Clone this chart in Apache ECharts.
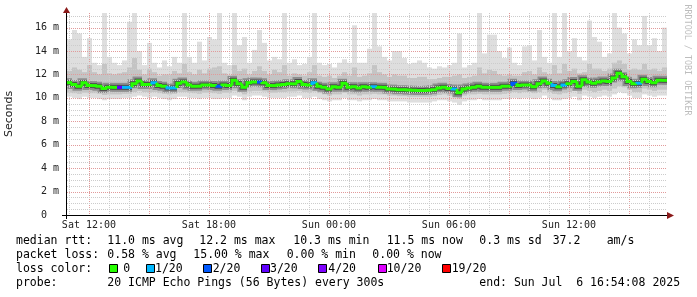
<!DOCTYPE html>
<html><head><meta charset="utf-8">
<script src="https://cdn.jsdelivr.net/npm/echarts@6/dist/echarts.min.js"></script>
<style>html,body{margin:0;padding:0;background:#fff}#c{width:697px;height:297px}</style>
</head><body><div id="c"></div>
<script>
// ---- time base: Sat 10:54:08 -> Sun 16:54:08, hours since Sat 00:00, 15-minute samples
const startHour = 10 + 54/60 + 8/3600;
const stepHours = 0.25;
const yMax = 17.25;

// median RTT (ms)
const median = [
 11.3,11.15,11.0,11.3,11.05,11.05,11.0,10.8,10.9,10.9,
 10.9,10.9,10.9,11.2,11.45,11.15,11.15,11.3,11.05,11.0,
 10.85,10.85,11.25,11.35,11.1,11.0,11.0,11.1,11.1,11.05,
 11.0,11.1,11.05,11.5,11.2,10.9,11.3,11.35,11.35,11.3,
 11.05,11.05,11.1,11.15,11.2,11.2,11.4,11.15,11.1,11.3,
 11.0,10.9,10.75,10.95,10.9,11.25,10.9,10.95,10.85,10.95,
 10.9,10.95,10.9,10.9,10.75,10.75,10.7,10.7,10.68,10.65,
 10.63,10.63,10.65,10.7,10.85,10.9,10.8,10.75,10.45,10.75,
 10.85,10.9,11.0,10.9,10.9,10.9,10.9,11.0,11.0,11.25,
 11.05,11.1,11.1,10.95,11.2,11.45,11.25,11.05,10.95,11.1,
 11.2,11.4,11.0,11.55,11.35,11.25,11.35,11.45,11.4,11.7,
 12.1,11.8,11.4,11.2,11.25,11.6,11.4,11.3,11.5,11.5];

// lost pings out of 20 per sample
const lossCount = [
 0,0,0,0,0,0,0,0,0,0, 3,1,1,0,0,0,0,1,0,0, 1,1,0,0,0,0,0,0,0,0,
 2,0,0,0,0,0,0,0,2,0, 0,0,0,0,0,0,0,0,0,1, 0,0,0,0,0,0,0,0,0,0,
 0,1,0,0,0,0,0,0,0,0, 0,0,0,0,0,0,0,1,0,0, 0,0,0,0,0,0,0,0,0,2,
 0,0,0,0,0,0,0,1,0,1, 0,0,0,0,0,0,0,0,0,0, 0,0,0,0,1,0,0,0,0,0];

// smoke: lowest ping, inner band low/high, highest ping (ms)
const pingMin = [
 10.1,10.0,9.9,10.1,10.0,10.0,9.9,9.8,9.9,9.9,
 9.9,10.0,10.0,10.1,10.2,10.1,10.0,10.1,10.0,9.9,
 9.8,9.9,10.1,10.1,10.0,10.0,9.9,10.0,10.0,9.9,
 9.9,10.0,10.0,10.2,10.1,9.8,10.1,10.2,10.2,10.1,
 10.0,10.0,10.0,10.0,10.1,10.1,10.2,10.0,10.0,10.1,
 9.9,9.8,9.7,9.8,9.8,10.0,9.8,9.8,9.7,9.8,
 9.8,9.9,9.8,9.8,9.7,9.7,9.7,9.7,9.6,9.6,
 9.6,9.6,9.6,9.7,9.8,9.8,9.7,9.6,9.4,9.7,
 9.8,9.8,9.9,9.8,9.8,9.8,9.8,9.9,9.9,10.0,
 9.9,10.0,10.0,9.9,10.0,10.2,10.0,9.8,9.8,9.9,
 10.0,10.1,9.8,10.2,10.1,10.0,10.1,10.2,10.1,10.3,
 10.5,10.4,10.2,10.0,10.0,10.3,10.2,10.1,10.2,10.2];
const bandLow = [
 10.45,10.4,10.35,10.45,10.4,10.4,10.35,10.25,10.3,10.3,
 10.3,10.35,10.35,10.5,10.6,10.5,10.45,10.5,10.4,10.35,
 10.3,10.35,10.5,10.5,10.45,10.4,10.35,10.45,10.45,10.4,
 10.35,10.45,10.45,10.6,10.5,10.3,10.55,10.6,10.6,10.55,
 10.45,10.45,10.5,10.5,10.55,10.55,10.6,10.5,10.45,10.55,
 10.4,10.3,10.2,10.3,10.3,10.45,10.3,10.3,10.2,10.3,
 10.3,10.35,10.3,10.3,10.2,10.2,10.15,10.15,10.1,10.1,
 10.1,10.1,10.1,10.15,10.25,10.3,10.2,10.15,9.95,10.2,
 10.3,10.3,10.35,10.3,10.3,10.3,10.3,10.35,10.4,10.5,
 10.4,10.5,10.5,10.4,10.5,10.7,10.5,10.35,10.3,10.4,
 10.5,10.6,10.35,10.7,10.6,10.5,10.6,10.7,10.6,10.8,
 11.0,10.9,10.7,10.5,10.5,10.8,10.7,10.6,10.7,10.7];
const bandHigh = [
 12.3,12.6,12.4,12.2,12.8,12.2,12.0,12.9,12.1,12.0,
 12.1,12.2,12.6,13.4,12.4,12.0,12.5,12.2,11.9,12.0,
 12.0,12.3,12.1,12.9,12.2,12.0,12.4,12.1,12.5,12.6,
 12.7,12.1,11.9,12.8,12.3,12.5,12.0,12.3,12.7,12.3,
 12.0,12.4,12.2,12.8,11.9,12.1,12.0,11.9,12.2,12.8,
 11.9,11.8,11.9,11.7,11.9,12.2,11.9,12.6,11.8,11.9,
 12.1,12.8,12.2,12.0,11.8,12.0,11.9,11.9,11.7,11.7,
 11.8,11.8,11.6,11.6,11.7,11.8,11.8,11.9,12.0,11.7,
 11.8,11.9,12.6,12.1,12.4,12.3,12.0,11.9,12.0,11.9,
 11.9,12.2,12.3,12.0,12.6,12.2,12.0,12.8,12.1,12.9,
 12.3,12.5,12.1,12.2,12.9,12.5,12.5,12.3,12.5,13.0,
 13.2,12.9,12.4,12.5,12.4,12.9,12.4,12.5,12.3,12.6];
const pingMax = [
 15.0,15.8,15.5,13.5,15.1,13.0,12.8,17.3,13.5,13.0,
 12.8,13.2,16.5,17.3,14.0,12.8,14.7,13.0,12.6,13.2,
 12.7,13.5,13.0,17.3,13.5,13.0,14.8,13.2,15.2,15.0,
 17.3,13.0,12.8,17.3,14.5,15.2,13.0,14.1,15.8,14.7,
 13.2,13.5,13.3,17.3,13.0,13.3,12.8,12.9,13.5,17.3,
 13.0,12.8,12.9,12.6,13.0,13.3,13.0,16.2,13.0,13.0,
 14.2,17.3,14.4,13.5,13.2,14.0,14.0,13.4,12.9,13.0,
 13.2,13.0,12.6,12.5,12.7,12.6,12.8,13.0,15.5,12.6,
 12.8,13.0,17.3,13.8,15.4,15.4,14.0,13.4,14.3,13.0,
 12.8,14.4,14.5,13.2,15.8,13.5,13.0,17.3,13.5,17.3,
 14.0,15.1,13.5,13.2,16.6,15.2,14.8,13.5,13.8,17.3,
 16.0,15.5,13.8,15.0,14.5,17.0,14.5,15.1,14.0,16.0];

// axis labels
const xTickHours = [12, 18, 24, 30, 36];
const xTickLabels = ['Sat 12:00', 'Sat 18:00', 'Sun 00:00', 'Sun 06:00', 'Sun 12:00'];
const yTickStep = 2;

// legend
const lossLevels = [0, 1, 2, 3, 4, 10, 19];
const lossNames = ['0', '1/20', '2/20', '3/20', '4/20', '10/20', '19/20'];
const lossColors = ['#26ff00', '#00b8ff', '#0059ff', '#5e00ff', '#7e00ff', '#dd00ff', '#ff0000'];
const rttLine = ['median rtt:', '11.0 ms avg', '12.2 ms max', '10.3 ms min', '11.5 ms now', '0.3 ms sd', '37.2', 'am/s'];
const lossLine = ['packet loss:', '0.58 % avg', '15.00 % max', '0.00 % min', '0.00 % now'];
const probeLine = ['probe:', '20 ICMP Echo Pings (56 Bytes) every 300s', 'end: Sun Jul  6 16:54:08 2025'];
const watermark = 'RRDTOOL / TOBI OETIKER';

// ---------------------------------------------------------------
const MONO = "'DejaVu Sans Mono', monospace";
const chart = echarts.init(document.getElementById('c'), null, {renderer: 'canvas'});
const rows = median.map((m, i) => [startHour + i*stepHours, startHour + (i+1)*stepHours,
  pingMin[i], bandLow[i], m, bandHigh[i], Math.min(pingMax[i], yMax), lossCount[i], i]);
const endHour = startHour + median.length*stepHours;

function lossColor(c) {
  let col = lossColors[0];
  for (let k = 0; k < lossLevels.length; k++) if (c >= lossLevels[k]) col = lossColors[k];
  return col;
}
function bandRender(loIdx, hiIdx, color) {
  return (params, api) => {
    const a = api.coord([api.value(0), api.value(hiIdx)]);
    const b = api.coord([api.value(1), api.value(loIdx)]);
    return {type: 'rect', shape: {x: a[0], y: a[1], width: b[0]-a[0], height: b[1]-a[1]}, style: {fill: color}};
  };
}
function stepRender(colorFn, width) {
  return (params, api) => {
    const i = api.value(8);
    const xl = api.coord([api.value(0), 0])[0], xr = api.coord([api.value(1), 0])[0];
    const y = api.coord([api.value(0), api.value(4)])[1];
    const pts = [];
    if (i > 0) pts.push([xl, api.coord([api.value(0), median[i-1]])[1]]);
    pts.push([xl, y], [xr, y]);
    return {type: 'polyline', shape: {points: pts}, style: {stroke: colorFn(api.value(7)), lineWidth: width, fill: null, lineJoin: 'miter'}};
  };
}
const custom = (render, z) => ({type: 'custom', data: rows, renderItem: render, z: z, clip: true,
  animation: false, silent: true, encode: {x: [0, 1], y: [2, 6]}});

// dotted grid drawn over the smoke (as rrdtool does)
function gridRender(params, api) {
  const kids = [];
  const y0 = api.coord([startHour, 0])[1], y1 = api.coord([startHour, yMax])[1];
  const x0 = api.coord([startHour, 0])[0], x1 = api.coord([endHour, 0])[0];
  for (let h = Math.ceil(startHour); h < endHour; h++) {
    const x = Math.round(api.coord([h, 0])[0]) + 0.5;
    kids.push({type: 'line', shape: {x1: x, y1: Math.round(y1), x2: x, y2: Math.round(y0)},
      style: {stroke: h % 3 === 0 ? '#e19a9a' : '#cccccc', lineWidth: 1, lineDash: [1, 1]}});
  }
  for (let v = 0.5; v < yMax; v += 0.5) {
    const major = Math.abs(v/yTickStep - Math.round(v/yTickStep)) < 1e-6;
    const y = Math.round(api.coord([startHour, v])[1]) + 0.5;
    kids.push({type: 'line', shape: {x1: Math.round(x0), y1: y, x2: Math.round(x1), y2: y},
      style: {stroke: major ? '#e19a9a' : '#cccccc', lineWidth: 1, lineDash: [1, 1]}});
  }
  return {type: 'group', children: kids};
}

const graphics = [];
const txt = (s, x, y, extra) => graphics.push(Object.assign({type: 'text', x: x, y: y, silent: true,
  style: {text: s, font: '11.5px ' + MONO, fill: '#000', verticalAlign: 'middle'}}, extra || {}));
[16, 107.3, 199.3, 293.3, 386.7, 479.3, 552.7, 606.7].forEach((x, k) => txt(rttLine[k], x, 241));
[16, 107.3, 193.3, 286.7, 372.3].forEach((x, k) => txt(lossLine[k], x, 255));
txt('loss color:', 16, 269);
const boxX = [109, 145.7, 203.3, 261, 318.3, 377.7, 441.7];
const nameX = [123.3, 155, 212.7, 270, 328.3, 386.7, 451.7];
lossNames.forEach((n, k) => {
  graphics.push({type: 'rect', silent: true, shape: {x: Math.round(boxX[k]) + 0.5, y: 264.5, width: 8, height: 8},
    style: {fill: lossColors[k], stroke: '#000', lineWidth: 1}});
  txt(n, nameX[k], 269);
});
[16, 107.3, 479.3].forEach((x, k) => txt(probeLine[k], x, 283));
graphics.push({type: 'text', x: 687, y: 60, rotation: -Math.PI/2, silent: true,
  style: {text: watermark, font: '8.4px ' + MONO, fill: '#bdbdbd', align: 'center', verticalAlign: 'middle'}});
// axis lines, arrows
graphics.push({type: 'line', silent: true, z: 10, shape: {x1: 62, y1: 215.5, x2: 668, y2: 215.5}, style: {stroke: '#000', lineWidth: 1}});
graphics.push({type: 'line', silent: true, z: 10, shape: {x1: 66.5, y1: 219, x2: 66.5, y2: 12}, style: {stroke: '#000', lineWidth: 1}});
graphics.push({type: 'polygon', silent: true, z: 10, shape: {points: [[667, 212], [667, 219], [674, 215.5]]}, style: {fill: '#8b1a1a'}});
graphics.push({type: 'polygon', silent: true, z: 10, shape: {points: [[63, 13], [70, 13], [66.5, 7]]}, style: {fill: '#8b1a1a'}});

chart.setOption({
  animation: false,
  backgroundColor: '#fff',
  grid: {left: 67, right: 30, top: 13, bottom: 82, containLabel: false, outerBoundsMode: 'none'},
  xAxis: {type: 'value', min: startHour, max: endHour,
    axisLine: {show: false}, axisTick: {show: false}, splitLine: {show: false},
    axisLabel: {customValues: xTickHours, formatter: v => xTickLabels[xTickHours.indexOf(v)],
      fontFamily: MONO, fontSize: 10, color: '#222', margin: 5}},
  yAxis: {type: 'value', min: 0, max: yMax, interval: yTickStep,
    name: 'Seconds', nameLocation: 'middle', nameGap: 52, nameRotate: 90,
    nameTextStyle: {fontFamily: "'DejaVu Sans', sans-serif", fontSize: 11, color: '#222'},
    axisLine: {show: false}, axisTick: {show: false}, splitLine: {show: false},
    axisLabel: {formatter: v => v === 0 ? '0  ' : v + ' m', fontFamily: MONO, fontSize: 10, color: '#222',
      margin: 8, showMaxLabel: false}},
  graphic: graphics,
  series: [
    custom(bandRender(2, 6, '#dedede'), 1),
    custom(bandRender(3, 5, '#c4c4c4'), 1),
    custom(stepRender(() => '#8e8e8e', 9), 2),
    custom(stepRender(() => '#4e4e4e', 5), 2),
    {type: 'custom', data: [[startHour, 0]], renderItem: gridRender, z: 3, silent: true, animation: false,
      clip: false, encode: {x: 0, y: 1}},
    custom(stepRender(lossColor, 3), 4)
  ]
});
</script></body></html>
